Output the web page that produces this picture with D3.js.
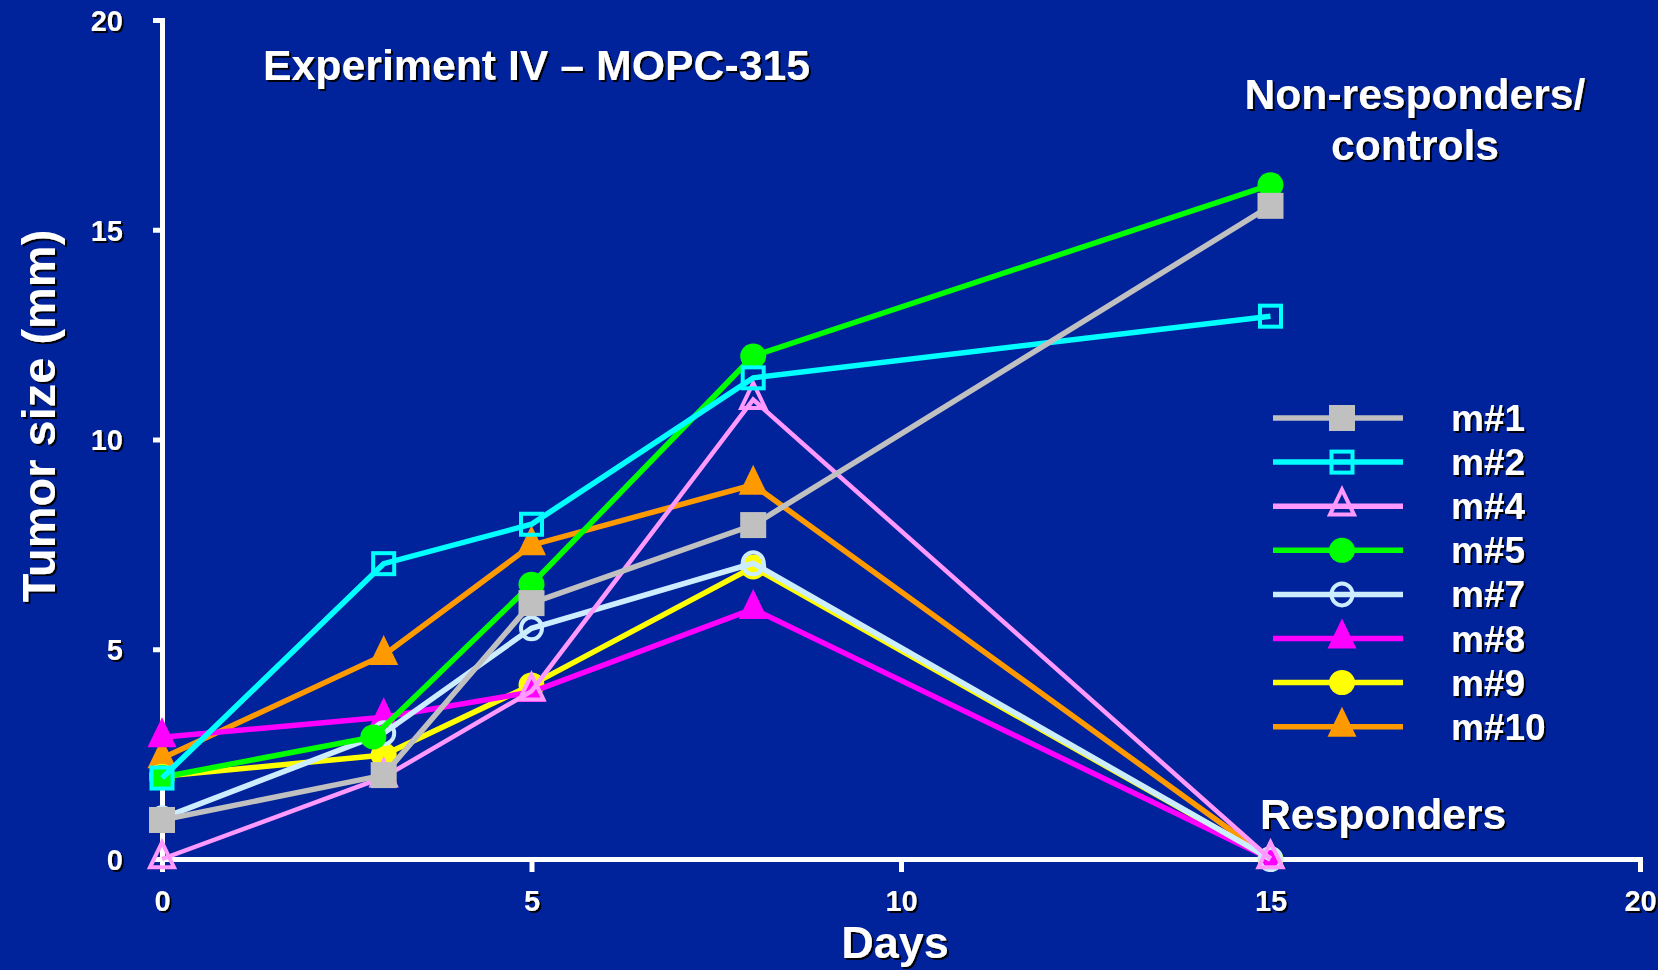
<!DOCTYPE html>
<html>
<head>
<meta charset="utf-8">
<script src="https://cdn.jsdelivr.net/npm/d3@7"></script>
<style>
  html, body { margin: 0; padding: 0; background: #00239B; }
  svg { display: block; }
  text { font-family: "Liberation Sans", Arial, sans-serif; font-weight: bold; fill: #ffffff; }
</style>
</head>
<body>
<svg id="chart" width="1658" height="970"></svg>
<script>
// ---- data ----
const days    = [0, 3, 5, 8, 15];
const m5Days  = [0, 2.86, 5, 8, 15];
const m1  = [0.93, 2.0, 6.1, 7.96, 15.57];
const m2  = [1.93, 7.04, 7.98, 11.47, 12.94];
const m4  = [0, 1.95, 4.0, 10.95, 0];
const m5  = [1.95, 2.91, 6.55, 11.99, 16.07];
const m7  = [0.97, 3.0, 5.5, 7.05, 0];
const m8  = [2.9, 3.38, 3.98, 5.96, 0];
const m9  = [1.97, 2.48, 4.15, 6.96, 0];
const m10 = [2.4, 4.86, 7.48, 8.92, 0];
const seriesNames = ["m#1", "m#2", "m#4", "m#5", "m#7", "m#8", "m#9", "m#10"];
const xTicks = [0, 5, 10, 15, 20];
const yTicks = [0, 5, 10, 15, 20];

const series = [
  { name: "m#1",  x: days,   y: m1,  color: "#C0C0C0", marker: "square",   open: false, w: 5.5 },
  { name: "m#2",  x: days,   y: m2,  color: "#00FFFF", marker: "square",   open: true,  w: 5.5 },
  { name: "m#4",  x: days,   y: m4,  color: "#FF99FF", marker: "triangle", open: true,  w: 4.5 },
  { name: "m#5",  x: m5Days, y: m5,  color: "#00FF00", marker: "circle",   open: false, w: 5.5 },
  { name: "m#7",  x: days,   y: m7,  color: "#CCECFF", marker: "circle",   open: true,  w: 5.5 },
  { name: "m#8",  x: days,   y: m8,  color: "#FF00FF", marker: "triangle", open: false, w: 5.5 },
  { name: "m#9",  x: days,   y: m9,  color: "#FFFF00", marker: "circle",   open: false, w: 5.5 },
  { name: "m#10", x: days,   y: m10, color: "#FF9900", marker: "triangle", open: false, w: 5.5 }
];

const svg = d3.select("#chart");
const defs = svg.append("defs");
const f = defs.append("filter").attr("id", "shadow").attr("x", "-10%").attr("y", "-10%").attr("width", "130%").attr("height", "140%");
f.append("feDropShadow").attr("dx", 2).attr("dy", 2).attr("stdDeviation", 0.6).attr("flood-color", "#000").attr("flood-opacity", 0.95);

svg.append("rect").attr("width", 1658).attr("height", 970).attr("fill", "#00239B");

const x = d3.scaleLinear().domain([0, 20]).range([162, 1640]);
const y = d3.scaleLinear().domain([0, 20]).range([859, 20]);

// ---- axes ----
const yAxis = svg.append("g").attr("transform", "translate(162,0)")
  .call(d3.axisLeft(y).tickValues(yTicks).tickSize(9).tickSizeOuter(0).tickPadding(30).tickFormat(d3.format("d")));
const xAxis = svg.append("g").attr("transform", "translate(0,859)")
  .call(d3.axisBottom(x).tickValues(xTicks).tickSize(13).tickSizeOuter(0).tickPadding(18).tickFormat(d3.format("d")));
[yAxis, xAxis].forEach(g => {
  g.select(".domain").attr("stroke", "#fff").attr("stroke-width", 5).attr("stroke-linecap", "square");
  g.selectAll(".tick line").attr("stroke", "#fff").attr("stroke-width", 5);
  g.selectAll(".tick text").attr("fill", "#fff").style("font-size", "29px")
    .attr("font-family", "Liberation Sans, Arial, sans-serif").attr("font-weight", "bold")
    .attr("filter", "url(#shadow)");
});
yAxis.selectAll(".tick text").attr("dy", "0.36em");

// ---- markers ----
function drawMarker(g, s, cx, cy) {
  const sw = 4;
  if (s.marker === "square") {
    const size = s.open ? 21 : 26;
    g.append("rect").attr("x", cx - size / 2).attr("y", cy - size / 2).attr("width", size).attr("height", size)
      .attr("fill", s.open ? "none" : s.color).attr("stroke", s.open ? s.color : "none").attr("stroke-width", sw);
  } else if (s.marker === "circle") {
    const r = s.open ? 10.5 : 13;
    g.append("ellipse").attr("cx", cx).attr("cy", cy).attr("rx", r).attr("ry", s.open ? r + 0.5 : r - 0.5)
      .attr("fill", s.open ? "none" : s.color).attr("stroke", s.open ? s.color : "none").attr("stroke-width", sw);
  } else {
    const w = s.open ? 24 : 29, h = s.open ? 25 : 30;
    const top = cy - h * 2 / 3, bot = cy + h / 3;
    g.append("path").attr("d", `M${cx},${top}L${cx + w / 2},${bot}L${cx - w / 2},${bot}Z`)
      .attr("fill", s.open ? "none" : s.color).attr("stroke", s.open ? s.color : "none")
      .attr("stroke-width", sw).attr("stroke-linejoin", "miter");
  }
}

// ---- series (drawn last-to-first so m#1 ends on top) ----
const line = d3.line().x(d => x(d[0])).y(d => y(d[1]));
series.slice().reverse().forEach(s => {
  const pts = s.x.map((d, i) => [d, s.y[i]]);
  const g = svg.append("g");
  g.append("path").attr("d", line(pts)).attr("fill", "none").attr("stroke", s.color).attr("stroke-width", s.w);
  pts.forEach(p => drawMarker(g, s, x(p[0]), y(p[1])));
});

// ---- legend ----
const legend = svg.append("g");
seriesNames.forEach((name, i) => {
  const s = series.find(d => d.name === name);
  const ry = 418 + i * 44.1;
  legend.append("line").attr("x1", 1273).attr("x2", 1403).attr("y1", ry).attr("y2", ry)
    .attr("stroke", s.color).attr("stroke-width", 5.5);
  drawMarker(legend, s, 1342, ry);
  legend.append("text").attr("x", 1451).attr("y", ry + 13).style("font-size", "37px")
    .attr("filter", "url(#shadow)").text(name);
});

// ---- texts ----
const T = svg.append("g").attr("filter", "url(#shadow)");
T.append("text").attr("x", 263).attr("y", 80).style("font-size", "42.8px").text("Experiment IV – MOPC-315");
T.append("text").attr("x", 1415).attr("y", 109).attr("text-anchor", "middle").style("font-size", "42.6px").text("Non-responders/");
T.append("text").attr("x", 1415).attr("y", 160).attr("text-anchor", "middle").style("font-size", "42.6px").text("controls");
T.append("text").attr("x", 1260).attr("y", 829).style("font-size", "42.6px").text("Responders");
T.append("text").attr("x", 895).attr("y", 958).attr("text-anchor", "middle").style("font-size", "45px").text("Days");
T.append("text").attr("transform", "translate(55,416) rotate(-90)").attr("text-anchor", "middle").style("font-size", "47px").text("Tumor size (mm)");
</script>
</body>
</html>
